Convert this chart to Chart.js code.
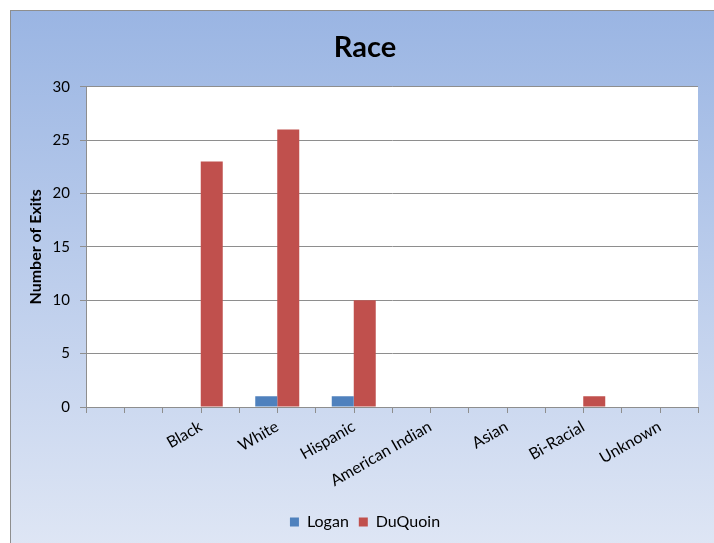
<!DOCTYPE html>
<html>
<head>
<meta charset="utf-8">
<script src="https://cdn.jsdelivr.net/npm/chart.js@4"></script>
<style>
  body { margin: 0; background: #fff; }
  #wrap { width: 714px; height: 543px; }
</style>
</head>
<body>
<div id="wrap"><canvas id="raceChart"></canvas></div>
<script>
// chart data
var categories = ['', 'Black', 'White', 'Hispanic', 'American Indian', 'Asian', 'Bi-Racial', 'Unknown'];
var loganValues = [0, 0, 1, 1, 0, 0, 0, 0];
var duquoinValues = [0, 23, 26, 10, 0, 0, 1, 0];
var yTicks = [0, 5, 10, 15, 20, 25, 30];

var fontFamily = 'Lato, "Open Sans", sans-serif';

// outer frame with blue gradient + white plot area
var backgroundPlugin = {
    id: 'backgroundPlugin',
    beforeDraw: function (chart) {
        var ctx = chart.ctx;
        var area = chart.chartArea;
        ctx.save();
        ctx.fillStyle = '#ffffff';
        ctx.fillRect(0, 0, chart.width, chart.height);
        var grad = ctx.createLinearGradient(0, 10, 0, 560);
        grad.addColorStop(0, '#9ab5e3');
        grad.addColorStop(1, '#e0e7f5');
        ctx.fillStyle = grad;
        ctx.fillRect(10.5, 10.5, 740, 570);
        ctx.strokeStyle = '#8e8e8e';
        ctx.lineWidth = 1;
        ctx.strokeRect(10.5, 10.5, 740, 570);
        ctx.fillStyle = '#ffffff';
        ctx.fillRect(area.left, area.top, area.right - area.left, area.bottom - area.top);
        ctx.restore();
    }
};

// extra tick marks at the category centres (Excel style)
var centerTicksPlugin = {
    id: 'centerTicksPlugin',
    afterDraw: function (chart) {
        var xScale = chart.scales.x;
        var ctx = chart.ctx;
        ctx.save();
        ctx.strokeStyle = '#8e8e8e';
        ctx.lineWidth = 1;
        ctx.beginPath();
        categories.forEach(function (c, i) {
            var px = Math.round(xScale.getPixelForTick(i)) + 0.5;
            ctx.moveTo(px, xScale.top);
            ctx.lineTo(px, xScale.top + 6);
        });
        ctx.stroke();
        ctx.restore();
    }
};

var ctx = document.getElementById('raceChart').getContext('2d');

var chart = new Chart(ctx, {
    type: 'bar',
    data: {
        labels: categories,
        datasets: [{
            label: 'Logan',
            data: loganValues,
            backgroundColor: '#4f81bd',
            borderWidth: 0
        }, {
            label: 'DuQuoin',
            data: duquoinValues,
            backgroundColor: '#c0504d',
            borderWidth: 0
        }]
    },
    options: {
        responsive: true,
        maintainAspectRatio: false,
        animation: false,
        datasets: {
            bar: {
                categoryPercentage: 0.575,
                barPercentage: 1.0
            }
        },
        layout: {
            padding: { left: 32, right: 16, top: 14, bottom: 3 }
        },
        plugins: {
            title: {
                display: true,
                text: 'Race',
                color: '#000000',
                font: { family: fontFamily, size: 29, weight: 'bold' },
                padding: { top: 16, bottom: 22 }
            },
            legend: {
                position: 'bottom',
                labels: {
                    color: '#000000',
                    font: { family: fontFamily, size: 16 },
                    boxWidth: 9,
                    boxHeight: 9,
                    padding: 10
                }
            },
            tooltip: { enabled: false }
        },
        scales: {
            x: {
                afterFit: function (scale) { scale.height = 97; },
                grid: {
                    offset: true,
                    drawOnChartArea: false,
                    color: '#8e8e8e',
                    tickLength: 6
                },
                border: { color: '#8e8e8e', width: 1 },
                ticks: {
                    color: '#000000',
                    font: { family: fontFamily, size: 16 },
                    minRotation: 30,
                    maxRotation: 30,
                    autoSkip: false,
                    padding: 4
                }
            },
            y: {
                min: 0,
                max: 30,
                afterFit: function (scale) { scale.width = 54; },
                afterBuildTicks: function (scale) {
                    scale.ticks = yTicks.map(function (v) { return { value: v }; });
                },
                grid: {
                    color: '#8e8e8e',
                    tickLength: 6
                },
                border: { color: '#8e8e8e', width: 1 },
                ticks: {
                    color: '#000000',
                    font: { family: fontFamily, size: 15 },
                    padding: 10
                },
                title: {
                    display: true,
                    text: 'Number of Exits',
                    color: '#000000',
                    font: { family: fontFamily, size: 16, weight: 'bold' },
                    padding: { top: -6, bottom: 0 }
                }
            }
        }
    },
    plugins: [backgroundPlugin, centerTicksPlugin]
});
</script>
</body>
</html>
